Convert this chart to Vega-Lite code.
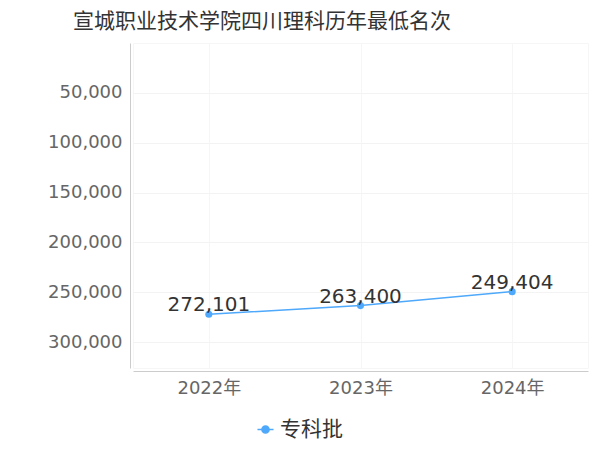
{
  "$schema": "https://vega.github.io/schema/vega-lite/v6.json",
  "autosize": "none",
  "width": 455,
  "height": 325,
  "padding": {"left": 133, "top": 43, "right": 12, "bottom": 82},
  "background": "white",
  "config": {
    "font": "DejaVu Sans, Noto Sans CJK SC",
    "view": {"stroke": "#f6f6f6"}
  },
  "title": {
    "text": "宣城职业技术学院四川理科历年最低名次",
    "font": "Noto Sans CJK SC",
    "fontSize": 21,
    "fontWeight": "normal",
    "color": "#333333",
    "anchor": "start",
    "frame": "group",
    "dx": -60,
    "offset": 11
  },
  "data": {
    "values": [
      {"year": "2022年", "rank": 272101, "batch": "专科批"},
      {"year": "2023年", "rank": 263400, "batch": "专科批"},
      {"year": "2024年", "rank": 249404, "batch": "专科批"}
    ]
  },
  "encoding": {
    "x": {
      "field": "year",
      "type": "ordinal",
      "title": null,
      "scale": {"type": "point", "padding": 0.5},
      "axis": {
        "labelAngle": 0,
        "labelFontSize": 18,
        "labelColor": "#666666",
        "labelPadding": 8,
        "domainColor": "#cccccc",
        "ticks": false,
        "grid": true,
        "gridColor": "#f6f6f6",
        "offset": 3
      }
    },
    "y": {
      "field": "rank",
      "type": "quantitative",
      "title": null,
      "scale": {"domain": [0, 326000], "reverse": true, "nice": false, "zero": false},
      "axis": {
        "values": [50000, 100000, 150000, 200000, 250000, 300000],
        "labelExpr": "format(datum.value, ',')",
        "labelFontSize": 18,
        "labelColor": "#666666",
        "labelPadding": 8,
        "domainColor": "#cccccc",
        "ticks": false,
        "gridColor": "#f3f3f3",
        "offset": 3
      }
    }
  },
  "layer": [
    {
      "mark": {"type": "line", "strokeWidth": 1.5, "point": {"filled": true, "size": 50}},
      "encoding": {
        "color": {
          "field": "batch",
          "type": "nominal",
          "scale": {"range": ["#4ea8fb"]},
          "legend": {
            "title": null,
            "orient": "none",
            "legendX": 122,
            "legendY": 376,
            "labelFontSize": 21,
            "labelColor": "#333333",
            "labelOffset": 4,
            "symbolType": "M -1 0 L -0.45 0 M 0.45 0 L 1 0 M -0.45 0 A 0.45 0.45 0 1 1 0.45 0 A 0.45 0.45 0 1 1 -0.45 0",
            "symbolSize": 256,
            "symbolFillColor": "#4ea8fb",
            "symbolStrokeColor": "#4ea8fb",
            "symbolStrokeWidth": 1.5
          }
        }
      }
    },
    {
      "mark": {
        "type": "text",
        "fontSize": 20,
        "color": "#333333",
        "baseline": "alphabetic",
        "dy": -3
      },
      "encoding": {
        "text": {"field": "rank", "type": "quantitative", "format": ","}
      }
    }
  ]
}
